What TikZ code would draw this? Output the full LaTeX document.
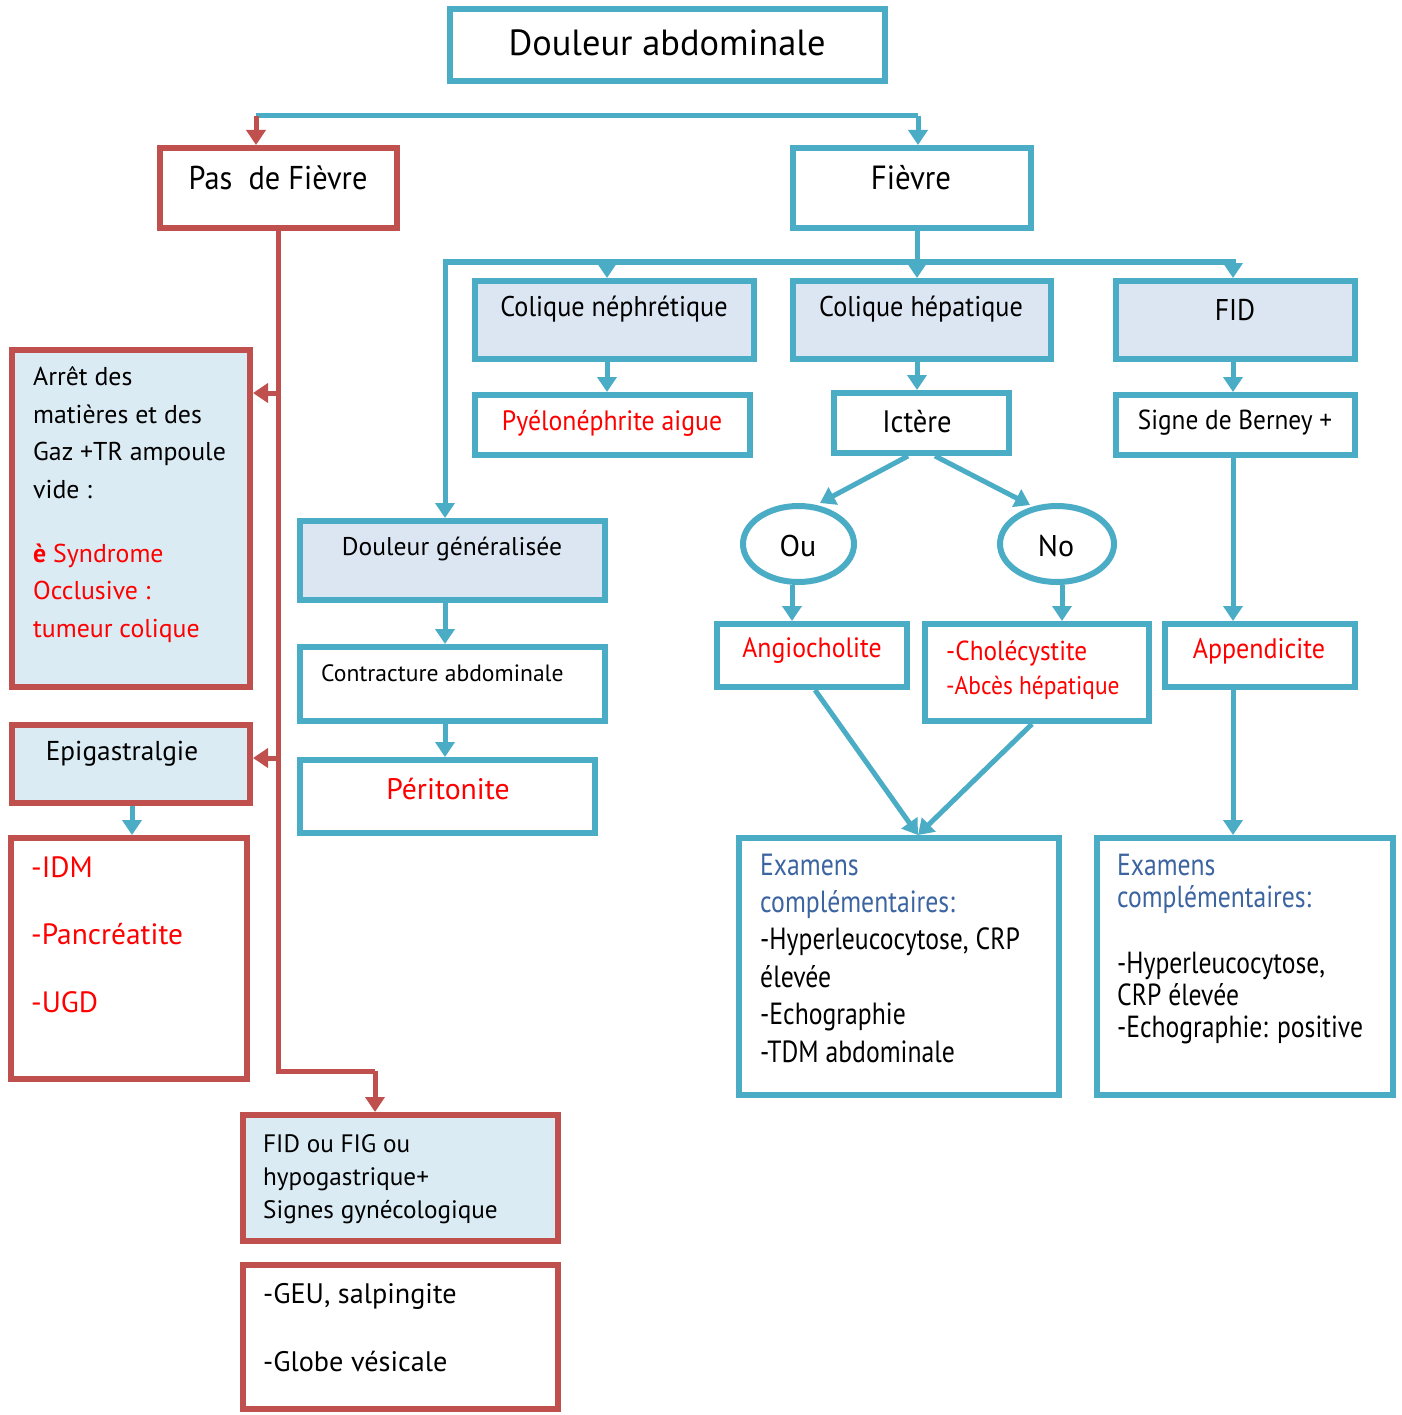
\documentclass[tikz,border=0pt]{standalone}
\usepackage{fontspec}
\setmainfont{PT Sans}
\newfontfamily\cond{PT Sans}[FakeStretch=0.92]
\newfontfamily\condx{PT Sans}[FakeStretch=0.84]
\usetikzlibrary{arrows.meta,shapes.geometric}

\definecolor{tealc}{HTML}{4BACC6}
\definecolor{redb}{HTML}{C0504D}
\definecolor{fillA}{HTML}{DCE6F2}
\definecolor{fillB}{HTML}{DAEBF3}
\definecolor{txtred}{HTML}{FF0000}
\definecolor{exblue}{HTML}{3B64A0}

\newcommand\fsz[2]{\fontsize{#1}{#2}\selectfont}
% box given by its outer corners (x1,y1) (x2,y2)
\newcommand\bx[6]{\node[#2, minimum width={#5-#3-6}, minimum height={#6-#4-6}] (#1) at ({(#3+#5)/2},{(#4+#6)/2}) {};}

\tikzset{
  bt/.style={rectangle, draw=tealc, line width=6pt, inner sep=0pt},
  br/.style={rectangle, draw=redb, line width=6pt, inner sep=0pt},
  et/.style={ellipse, draw=tealc, line width=6pt, inner sep=0pt},
  tl/.style={draw=tealc, line width=5pt},
  ta/.style={tl, -{Triangle[width=19pt,length=15pt]}},
  rl/.style={draw=redb, line width=5pt},
  ra/.style={rl, -{Triangle[width=19pt,length=15pt]}},
  lbl/.style={inner sep=0pt, text=black},
  % multi-line text: anchored at the baseline of its last line
  lbw/.style={inner sep=0pt, text=black, anchor=base west, align=left},
}

\begin{document}
\begin{tikzpicture}[x=1pt, y=-1pt]
\useasboundingbox[fill=white] (0,0) rectangle (1401,1415);

% ---- boxes ----
\bx{top}{bt}{447}{6}{888}{84}
\bx{pas}{br}{157}{145}{400}{231}
\bx{fiev}{bt}{790}{145}{1034}{231}
\bx{cn}{bt, fill=fillA}{472}{278}{757}{362}
\bx{ch}{bt, fill=fillA}{790}{278}{1054}{362}
\bx{fid}{bt, fill=fillA}{1113}{278}{1358}{362}
\bx{pyelo}{bt}{472}{392}{753}{458}
\bx{ict}{bt}{831}{390}{1012}{456}
\bx{bern}{bt}{1113}{392}{1358}{458}
\bx{ou}{et}{740}{503}{857}{585}
\bx{no}{et}{997}{503}{1117}{585}
\bx{angio}{bt}{714}{621}{910}{690}
\bx{chol}{bt}{922}{621}{1152}{724}
\bx{app}{bt}{1162}{621}{1358}{690}
\bx{exa}{bt}{736}{835}{1062}{1098}
\bx{exb}{bt}{1094}{835}{1396}{1098}
\bx{dg}{bt, fill=fillA}{297}{518}{608}{603}
\bx{contr}{bt}{297}{644}{608}{724}
\bx{perit}{bt}{297}{757}{598}{836}
\bx{arret}{br, fill=fillB}{9}{347}{253}{690}
\bx{epi}{br, fill=fillB}{9}{722}{253}{806}
\bx{idm}{br}{8}{835}{250}{1082}
\bx{fidfig}{br, fill=fillB}{240}{1112}{561}{1244}
\bx{geu}{br}{240}{1262}{561}{1412}

% ---- texts ----
\node[lbl] (top-t) at (667,43) {\fsz{36.4}{42}Douleur abdominale};
\node[lbl] (pas-t) at (278,178) {\cond\fsz{33}{38}Pas\ \ de Fièvre};
\node[lbl] (fiev-t) at (911,178) {\cond\fsz{33.5}{38}Fièvre};
\node[lbl] (cn-t) at (614,309) {\cond\fsz{28.5}{34}Colique néphrétique};
\node[lbl] (ch-t) at (921,309) {\cond\fsz{28.5}{34}Colique hépatique};
\node[lbl] (fid-t) at (1235,310) {\cond\fsz{30}{36}FID};
\node[lbl, text=txtred] (pyelo-t) at (612,423) {\cond\fsz{28}{34}Pyélonéphrite aigue};
\node[lbl] (ict-t) at (917,422) {\cond\fsz{31}{36}Ictère};
\node[lbl] (bern-t) at (1235,423) {\cond\fsz{27.5}{33}Signe de Berney +};
\node[lbl] (ou-t) at (798,546) {\fsz{30}{36}Ou};
\node[lbl] (no-t) at (1056,546) {\fsz{30}{36}No};
\node[lbl, text=txtred] (angio-t) at (812,651) {\cond\fsz{28}{34}Angiocholite};
\node[lbw, text=txtred, font={\cond\fsz{27.5}{34}}] (chol-t) at (946,694) {-Cholécystite\\\fsz{25.5}{34}-Abcès hépatique};
\node[lbl, text=txtred] (app-t) at (1259,651) {\cond\fsz{28.3}{34}Appendicite};
\node[lbl] (dg-t) at (452,549) {\fsz{25.6}{30}Douleur généralisée};
\node[lbw] (contr-t) at (321,681) {\fsz{23.6}{28}Contracture abdominale};
\node[lbl, text=txtred] (perit-t) at (448,789) {\fsz{29.7}{34}Péritonite};

\node[lbw, font={\fsz{25.8}{37.5}}] (arret-t) at (33,637) {Arrêt des\\matières et des\\Gaz +TR ampoule\\vide :\\[26.5pt]%
  \textcolor{txtred}{{\bfseries è} Syndrome}\\\textcolor{txtred}{Occlusive :}\\\textcolor{txtred}{tumeur colique}};
\node[lbl] (epi-t) at (122,754) {\fsz{27.3}{32}Epigastralgie};
\node[lbw, text=txtred, font={\fsz{29.4}{67.5}}] (idm-t) at (31,1012) {-IDM\\-Pancréatite\\-UGD};
\node[lbw, font={\fsz{25.2}{33}}] (fidfig-t) at (263,1218) {FID ou FIG ou\\hypogastrique+\\Signes gynécologique};
\node[lbw, font={\fsz{28.2}{68}}] (geu-t) at (263,1371) {-GEU, salpingite\\-Globe vésicale};

\node[lbw, font={\condx\fsz{30.6}{37.4}}] (exa-t) at (760,1062) {\textcolor{exblue}{Examens}\\\textcolor{exblue}{complémentaires:}\\-Hyperleucocytose, CRP\\élevée\\-Echographie\\-TDM abdominale};
\node[lbw, font={\condx\fsz{30.5}{32}}] (exb-t) at (1117,1037) {\textcolor{exblue}{Examens}\\\textcolor{exblue}{complémentaires:}\\[34pt]-Hyperleucocytose,\\CRP élevée\\-Echographie: positive};

% ---- connectors: top split ----
\coordinate (sl) at (256,116);
\coordinate (sr) at (918,116);
\draw[tl] (sl) -- (sr);
\draw[ra] (sl) -- (sl |- pas.north);
\draw[ta] (sr) -- (sr |- fiev.north);

% ---- fever branch ----
\coordinate (fj) at (917,262);
\coordinate (fl) at (445,262);
\coordinate (fr) at (1233,262);
\coordinate (fm) at (607,262);
\draw[tl] (fj |- fiev.south) -- (fj);
\draw[tl, line cap=rect] (fl) -- (fr);
\draw[ta] (fm) -- (fm |- cn.north);
\draw[ta] (fj) -- (fj |- ch.north);
\draw[ta] (fr) -- (fr |- fid.north);
\draw[ta] (fl) -- (fl |- dg.north);

\draw[ta] (607,362) coordinate (c1) -- (c1 |- pyelo.north);
\draw[ta] (917,362) coordinate (c2) -- (c2 |- ict.north);
\draw[ta] (1233,362) coordinate (c3) -- (c3 |- bern.north);
\draw[ta] (1233,458) coordinate (c4) -- (c4 |- app.north);
\draw[ta] (1233,690) coordinate (c5) -- (c5 |- exb.north);

\draw[ta] (908,456) coordinate (i1) -- (820,503) coordinate (o1);
\draw[ta] (935,456) coordinate (i2) -- (1030,505) coordinate (o2);
\draw[ta] (792,585) coordinate (c6) -- (c6 |- angio.north);
\draw[ta] (1062,585) coordinate (c7) -- (c7 |- chol.north);
\coordinate (mx) at (918,835);
\draw[ta] (815,690) -- (mx);
\draw[ta] (1032,724) -- (mx);

\draw[ta] (445,603) coordinate (c8) -- (c8 |- contr.north);
\draw[ta] (445,724) coordinate (c9) -- (c9 |- perit.north);

% ---- no-fever branch ----
\coordinate (rv) at (278,1071);
\coordinate (rh) at (375,1071);
\draw[rl] (rv |- pas.south) -- (rv) -- (rh);
\draw[ra] (rh) -- (rh |- fidfig.north);
\coordinate (ja) at (278,393);
\coordinate (jb) at (278,758);
\draw[ra] (ja) -- (ja -| arret.east);
\draw[ra] (jb) -- (jb -| epi.east);
\draw[ta] (132,806) coordinate (c10) -- (c10 |- idm.north);
\end{tikzpicture}
\end{document}
